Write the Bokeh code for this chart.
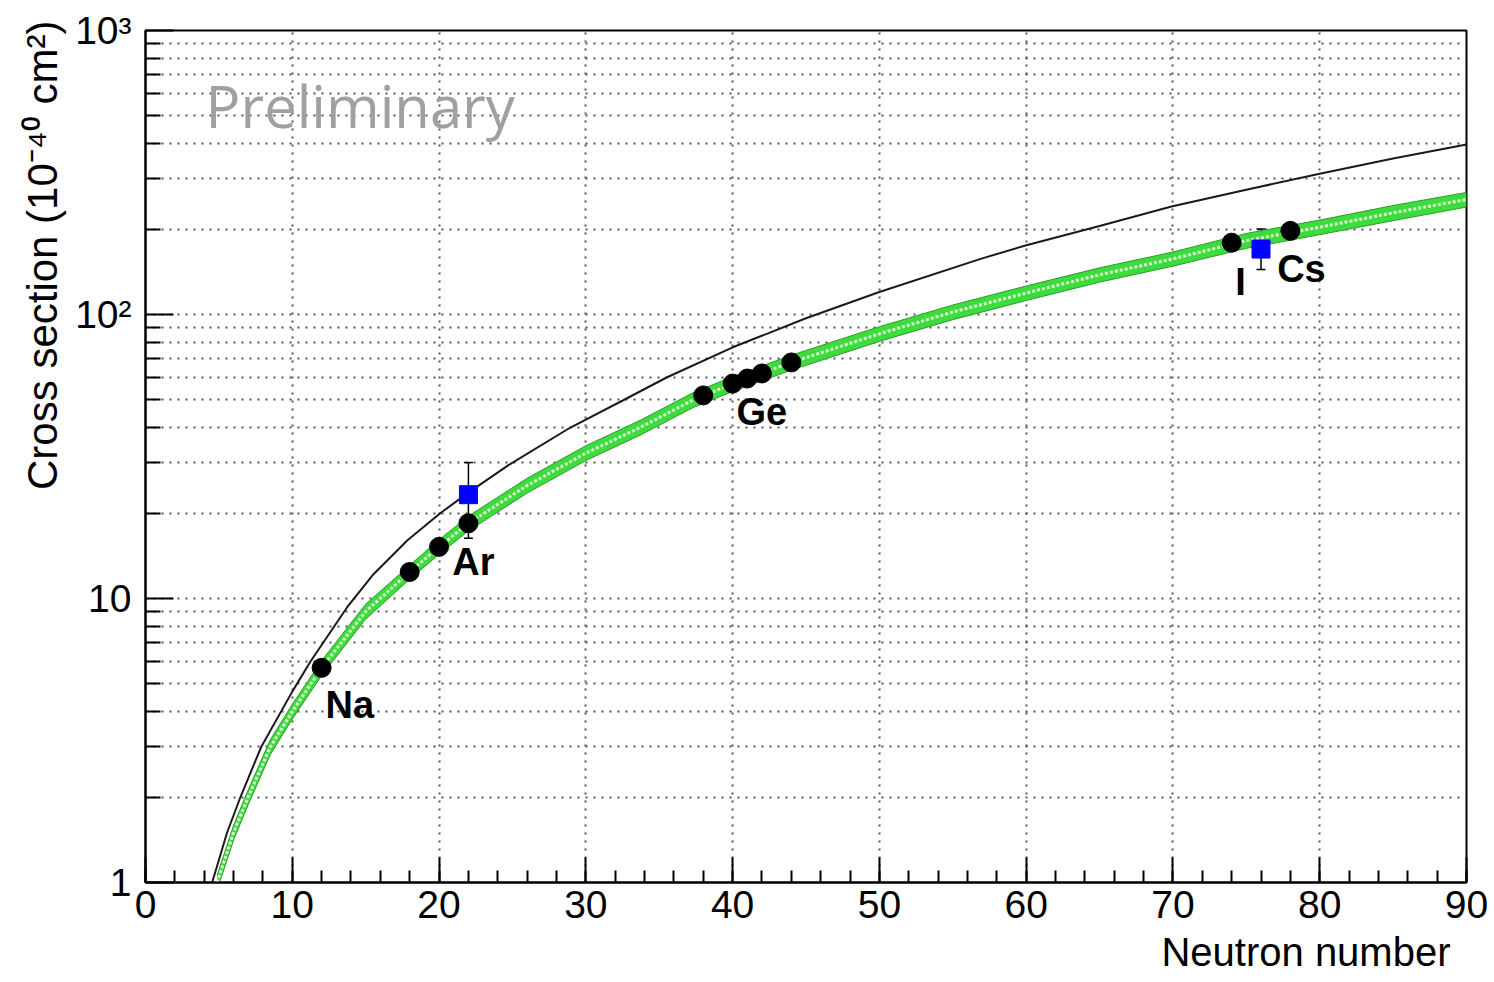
from bokeh.plotting import figure
from bokeh.models import SingleIntervalTicker, FixedTicker, Whisker, TeeHead, ColumnDataSource, Title
from bokeh.embed import file_html
from bokeh.resources import INLINE
from bokeh.core.properties import value

# ---------------- data ----------------
# measured cross sections (black points)
pt_n = [12, 18, 20, 22, 38, 40, 41, 42, 44, 74, 78]
pt_xs = [5.7, 12.4, 15.2, 18.4, 51.9, 57.1, 59.5, 62.0, 67.8, 179, 197]

# blue squares with error bars
sq_n = [22, 76]
sq_xs = [23.2, 170]
sq_hi = [30.1, 200]
sq_lo = [16.3, 144]

# black curve
curve_n = [4.54, 5.56, 6.47, 7.88, 10.0, 11.24, 13.74, 15.55, 17.83, 20.1, 22.0,
           24.73, 28.95, 32.58, 35.5, 39.97, 45.0, 49.95, 56.9, 59.95, 65.0,
           69.9, 75.0, 80.0, 85.0, 90.0]
curve_xs = [1.0, 1.5, 2.0, 3.0, 4.7, 6.0, 9.32, 12.2, 16.0, 20.0, 23.6,
            29.5, 40.0, 50.0, 60.0, 76.5, 97.0, 119.8, 157, 175, 205,
            240, 275, 313, 354, 397]

# green band (centre, lower, upper)
band_n = [4.88, 6.0, 7.0, 8.5, 10.0, 12.0, 15.0, 18.0, 20.0, 22.0, 26.0, 30.0,
          33.7, 37.3, 40.0, 44.0, 50.0, 55.0, 60.0, 65.0, 70.0, 75.0, 80.0, 85.0, 90.0]
band_mid = [1.0, 1.5, 2.0, 3.0, 4.0, 5.7, 9.0, 12.4, 15.2, 18.4, 25.0, 32.5,
            40.0, 50.0, 57.0, 67.8, 85.5, 102, 119, 138, 157, 182, 203, 228, 254]
band_lo = [0.94, 1.41, 1.88, 2.82, 3.76, 5.36, 8.46, 11.7, 14.3, 17.3, 23.5, 30.6,
           37.6, 47.0, 53.6, 63.7, 80.4, 95.9, 112, 130, 148, 171, 191, 214, 239]
band_hi = [1.06, 1.59, 2.12, 3.18, 4.24, 6.04, 9.54, 13.1, 16.1, 19.5, 26.5, 34.5,
           42.4, 53.0, 60.4, 71.9, 90.6, 108, 126, 146, 166, 193, 215, 242, 269]

# element labels (anchor positions)
lab_text = ["Na", "Ar", "Ge", "I", "Cs"]
lab_n = [12.26, 20.9, 40.26, 74.25, 77.1]
lab_xs = [4.20, 13.39, 45.2, 130.6, 145.2]

# axis ticks / texts
x_ticks = [0, 10, 20, 30, 40, 50, 60, 70, 80, 90]
y_ticks = [1, 10, 100, 1000]
y_tick_labels = ["1", "10", "10\u00b2", "10\u00b3"]
x_title = "Neutron number"
y_title = "Cross section (10\u207b\u2074\u2070 cm\u00b2)"
watermark = "Preliminary"
watermark_pos = (4.09, 543)

# ---------------- figure ----------------
FONT = "Liberation Sans"
p = figure(width=1494, height=982, x_range=(0, 90), y_range=(1, 1000),
           y_axis_type="log", output_backend="svg", toolbar_location=None,
           min_border_left=145, min_border_right=28, min_border_top=30,
           min_border_bottom=100, background_fill_color="white",
           border_fill_color="white")

p.outline_line_color = "black"
p.outline_line_width = 2

# ticks
p.xaxis.ticker = SingleIntervalTicker(interval=10, num_minor_ticks=5)
minor_y = [m * d for d in [1, 10, 100] for m in range(2, 10)]
p.yaxis.ticker = FixedTicker(ticks=y_ticks, minor_ticks=minor_y)
p.yaxis.major_label_overrides = {t: l for t, l in zip(y_ticks, y_tick_labels)}

for ax in (p.xaxis, p.yaxis):
    ax.axis_line_color = "black"
    ax.axis_line_width = 2
    ax.major_tick_line_color = "black"
    ax.minor_tick_line_color = "black"
    ax.major_tick_line_width = 2
    ax.minor_tick_line_width = 2
    ax.major_tick_out = 0
    ax.minor_tick_out = 0
    ax.major_label_text_font = FONT
    ax.major_label_text_font_size = "39px"
    ax.major_label_text_color = "black"

p.xaxis.major_tick_in = 25
p.xaxis.minor_tick_in = 12
p.yaxis.major_tick_in = 28
p.yaxis.minor_tick_in = 15
p.xaxis.major_label_standoff = 8
p.yaxis.major_label_standoff = 14

# axis titles as right/top aligned titles
p.add_layout(Title(text=x_title, align="right", text_font=FONT, text_font_style="normal",
                   text_font_size="40px", text_color="black", standoff=14, offset=16),
             "below")
p.add_layout(Title(text=y_title, align="right", text_font=FONT, text_font_style="normal",
                   text_font_size="42px", text_color="black", standoff=14, offset=-10),
             "left")

# grid
p.xgrid.ticker = FixedTicker(ticks=x_ticks)
p.xgrid.grid_line_color = "#555555"
p.xgrid.grid_line_dash = "2 6"
p.xgrid.grid_line_width = 2
p.ygrid.grid_line_color = "#555555"
p.ygrid.grid_line_dash = "2 6"
p.ygrid.grid_line_width = 2
p.ygrid.minor_grid_line_color = "#555555"
p.ygrid.minor_grid_line_dash = "2 6"
p.ygrid.minor_grid_line_width = 2

# watermark
p.text(x=[watermark_pos[0]], y=[watermark_pos[1]], text=[watermark],
       text_font=value("Open Sans"), text_font_size="58px", text_color="#a0a0a0",
       text_baseline="alphabetic", text_align="left")

# green band
p.varea(x=band_n, y1=band_lo, y2=band_hi, fill_color="#3ddc3d", fill_alpha=1.0)
p.line(band_n, band_lo, line_color="#2f9a2f", line_width=1)
p.line(band_n, band_hi, line_color="#2f9a2f", line_width=1)
p.line(band_n, band_mid, line_color="#d8f8d0", line_width=3, line_dash="3 2")

# black curve
p.line(curve_n, curve_xs, line_color="#1a1a1a", line_width=2)

# error bars
sq_src = ColumnDataSource(dict(x=sq_n, y=sq_xs, hi=sq_hi, lo=sq_lo))
p.add_layout(Whisker(source=sq_src, base="x", upper="hi", lower="lo",
                     line_color="black", line_width=1.5,
                     upper_head=TeeHead(size=9, line_color="black", line_width=1.5),
                     lower_head=TeeHead(size=9, line_color="black", line_width=1.5)))

# points
p.scatter(pt_n, pt_xs, marker="circle", size=19, fill_color="black", line_color="black")
p.scatter(sq_n, sq_xs, marker="square", size=18, fill_color="#0000ff", line_color="#0000ff")

# element labels
p.text(x=lab_n, y=lab_xs, text=lab_text, text_font=value(FONT), text_font_style="bold",
       text_font_size="38px", text_color="black", text_baseline="alphabetic",
       text_align="left")

open("out.html", "w").write(file_html(p, INLINE))
